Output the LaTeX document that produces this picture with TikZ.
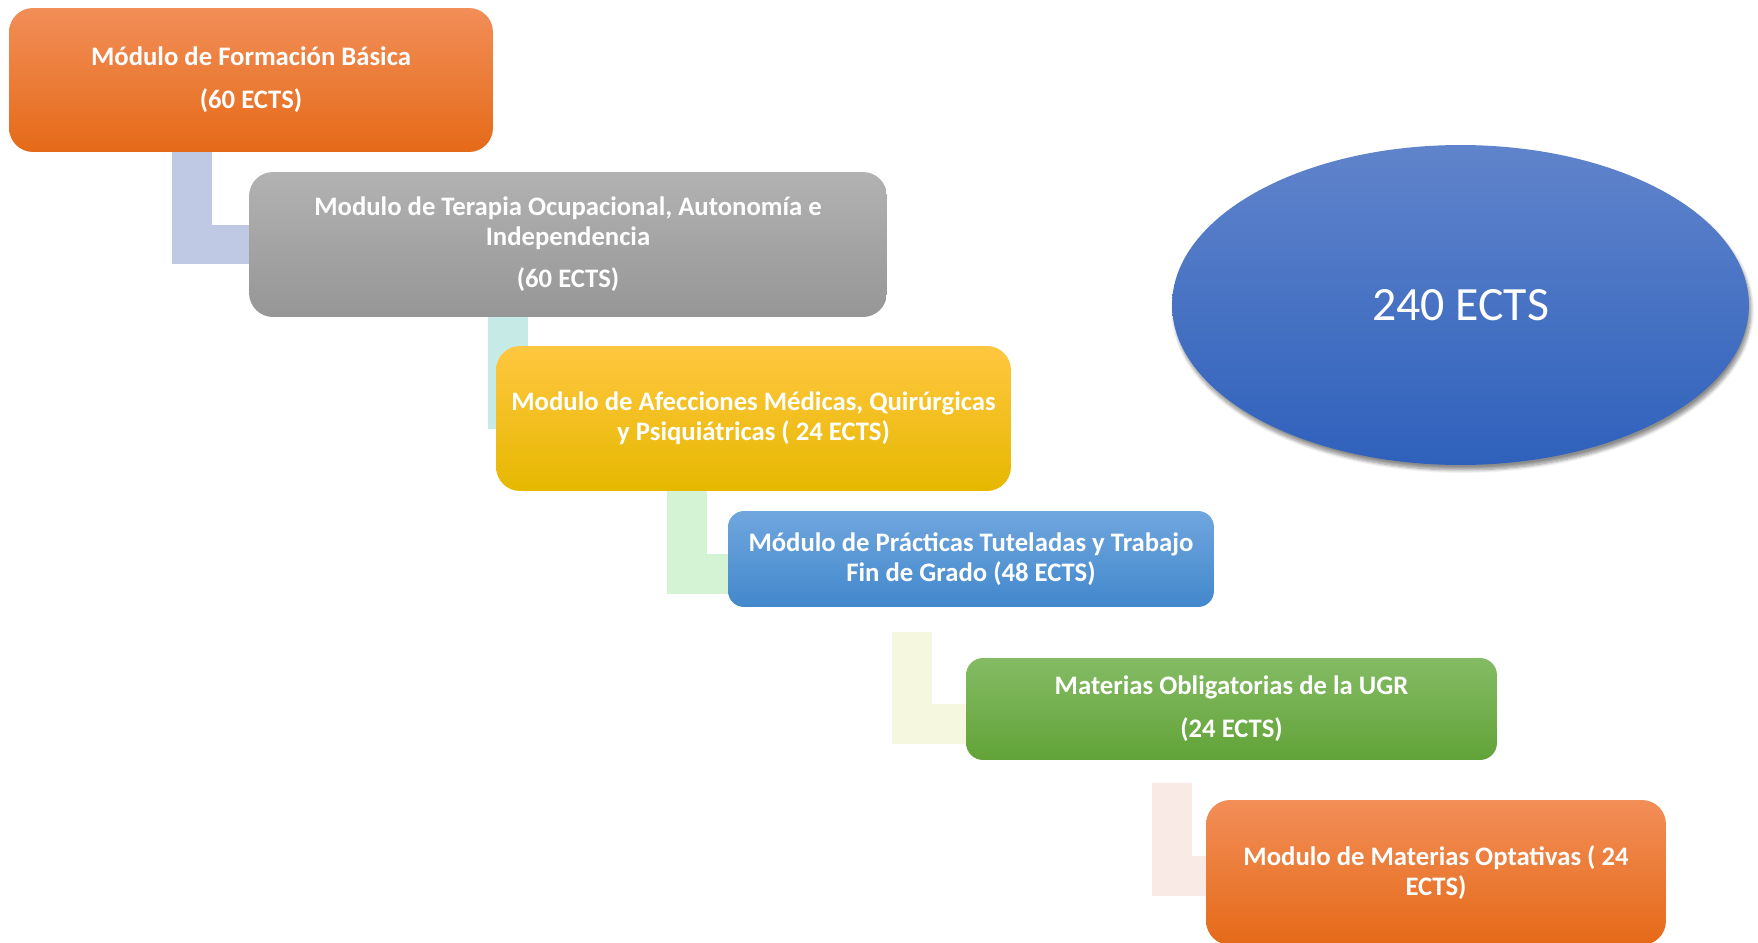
\documentclass[tikz,border=0pt]{standalone}
\usepackage{fontspec}
\setmainfont{Carlito}
\usetikzlibrary{shapes.geometric, shadows, shadows.blur, backgrounds, positioning}

\definecolor{orTop}{RGB}{242,142,88}
\definecolor{orMid}{RGB}{245,126,46}
\definecolor{orBot}{RGB}{229,106,24}
\definecolor{grTop}{RGB}{178,178,178}
\definecolor{grBot}{RGB}{150,150,150}
\definecolor{yeTop}{RGB}{255,199,64}
\definecolor{yeMid}{RGB}{255,197,0}
\definecolor{yeBot}{RGB}{230,184,0}
\definecolor{blTop}{RGB}{112,166,222}
\definecolor{blBot}{RGB}{66,136,204}
\definecolor{gnTop}{RGB}{132,187,100}
\definecolor{gnBot}{RGB}{98,163,56}
\definecolor{elTop}{RGB}{96,132,203}
\definecolor{elBot}{RGB}{47,97,188}
\definecolor{lavconn}{RGB}{191,201,228}
\definecolor{tealconn}{RGB}{198,235,230}
\definecolor{mintconn}{RGB}{212,242,212}
\definecolor{creamconn}{RGB}{245,247,222}
\definecolor{blushconn}{RGB}{250,234,230}

\begin{document}
\begin{tikzpicture}[x=0.02cm,y=-0.02cm,
  modbox/.style={text=white, align=center, inner sep=0pt,
    font=\fontsize{15.2pt}{17pt}\selectfont\bfseries},
  orangebox/.style={modbox, top color=orTop, middle color=orMid, bottom color=orBot},
  graybox/.style={modbox, top color=grTop, bottom color=grBot},
  yellowbox/.style={modbox, top color=yeTop, middle color=yeMid, bottom color=yeBot},
  bluebox/.style={modbox, top color=blTop, bottom color=blBot},
  greenbox/.style={modbox, top color=gnTop, bottom color=gnBot},
  conn/.style={line width=0.8cm}
]
\useasboundingbox (0,0) rectangle (1758,943);

%formacion basica
\node[orangebox, rounded corners=0.48cm, minimum width=9.68cm, minimum height=2.88cm] (basica) at (251,80)
  {Módulo de Formación Básica\\[0.26cm](60 ECTS)};
%terapia ocupacional
\node[graybox, rounded corners=0.48cm, minimum width=12.76cm, minimum height=2.9cm] (terapia) at (568,244.5)
  {Modulo de Terapia Ocupacional, Autonomía e\\Independencia\\[0.24cm](60 ECTS)};
%afecciones
\node[yellowbox, rounded corners=0.48cm, minimum width=10.3cm, minimum height=2.9cm] (afecciones) at (753.5,418.5)
  {Modulo de Afecciones Médicas, Quirúrgicas\\y Psiquiátricas ( 24 ECTS)};
%practicas
\node[bluebox, rounded corners=0.32cm, minimum width=9.72cm, minimum height=1.92cm] (practicas) at (971,559)
  {Módulo de Prácticas Tuteladas y Trabajo\\Fin de Grado (48 ECTS)};
%obligatorias ugr
\node[greenbox, rounded corners=0.34cm, minimum width=10.62cm, minimum height=2.04cm] (obligatorias) at (1231.5,709)
  {Materias Obligatorias de la UGR\\[0.26cm](24 ECTS)};
%optativas
\node[orangebox, rounded corners=0.48cm, minimum width=9.2cm, minimum height=2.9cm] (optativas) at (1436,872.5)
  {Modulo de Materias Optativas ( 24\\ECTS)};
%total
\node[ellipse, top color=elTop, bottom color=elBot, text=white, inner sep=0pt,
  minimum width=11.54cm, minimum height=6.4cm,
  blur shadow={shadow xshift=0.04cm, shadow yshift=-0.1cm, shadow opacity=45, shadow blur steps=8},
  font=\fontsize{27.2pt}{30pt}\selectfont] (total) at (1460.5,305) {240 ECTS};

%connectors
\coordinate (k1) at (192,152);
\coordinate (k2) at (508,317);
\coordinate (k3) at (686.5,491);
\coordinate (k4) at (911.5,632);
\coordinate (k5) at (1171.5,783);
\begin{scope}[on background layer]
\draw[conn, lavconn] (k1) |- (terapia.west);
\draw[conn, tealconn] (k2) |- ([yshift=0.19cm]afecciones.center);
\draw[conn, mintconn] (k3) |- ([yshift=-0.3cm]practicas.west);
\draw[conn, creamconn] (k4) |- ([yshift=-0.3cm]obligatorias.west);
\draw[conn, blushconn] (k5) |- ([yshift=-0.06cm]optativas.west);
\end{scope}

\end{tikzpicture}
\end{document}
